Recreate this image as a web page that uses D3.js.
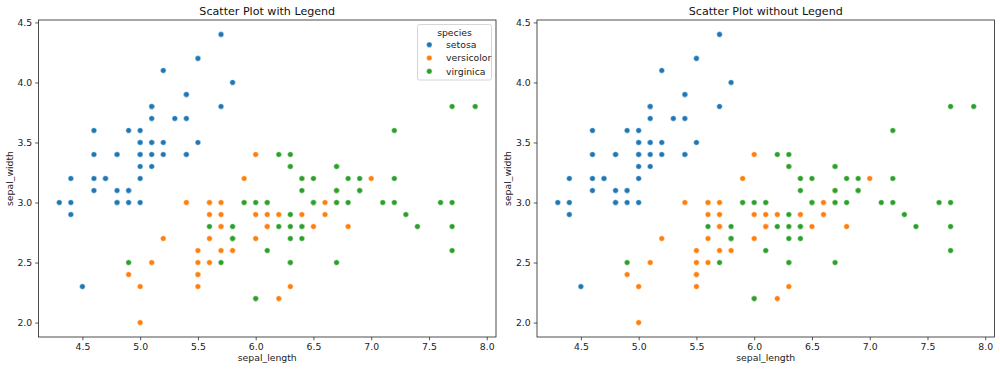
<!DOCTYPE html>
<html>
<head>
<meta charset="utf-8">
<script src="https://cdn.jsdelivr.net/npm/d3@7"></script>
<style>
  body { margin: 0; background: #fff; }
  svg { display: block; font-family: "DejaVu Sans", sans-serif; }
</style>
</head>
<body>
<svg id="chart"></svg>
<script>
const species = ["setosa", "versicolor", "virginica"];
const colors = ["#1f77b4", "#ff7f0e", "#2ca02c"];
const titles = ["Scatter Plot with Legend", "Scatter Plot without Legend"];
const xTicks = [4.5, 5.0, 5.5, 6.0, 6.5, 7.0, 7.5, 8.0];
const yTicks = [2.0, 2.5, 3.0, 3.5, 4.0, 4.5];

// [sepal_length, sepal_width]
const setosa = [
  [5.1,3.5],[4.9,3.0],[4.7,3.2],[4.6,3.1],[5.0,3.6],[5.4,3.9],[4.6,3.4],[5.0,3.4],[4.4,2.9],[4.9,3.1],
  [5.4,3.7],[4.8,3.4],[4.8,3.0],[4.3,3.0],[5.8,4.0],[5.7,4.4],[5.4,3.9],[5.1,3.5],[5.7,3.8],[5.1,3.8],
  [5.4,3.4],[5.1,3.7],[4.6,3.6],[5.1,3.3],[4.8,3.4],[5.0,3.0],[5.0,3.4],[5.2,3.5],[5.2,3.4],[4.7,3.2],
  [4.8,3.1],[5.4,3.4],[5.2,4.1],[5.5,4.2],[4.9,3.1],[5.0,3.2],[5.5,3.5],[4.9,3.6],[4.4,3.0],[5.1,3.4],
  [5.0,3.5],[4.5,2.3],[4.4,3.2],[5.0,3.5],[5.1,3.8],[4.8,3.0],[5.1,3.8],[4.6,3.2],[5.3,3.7],[5.0,3.3]
];
const versicolor = [
  [7.0,3.2],[6.4,3.2],[6.9,3.1],[5.5,2.3],[6.5,2.8],[5.7,2.8],[6.3,3.3],[4.9,2.4],[6.6,2.9],[5.2,2.7],
  [5.0,2.0],[5.9,3.0],[6.0,2.2],[6.1,2.9],[5.6,2.9],[6.7,3.1],[5.6,3.0],[5.8,2.7],[6.2,2.2],[5.6,2.5],
  [5.9,3.2],[6.1,2.8],[6.3,2.5],[6.1,2.8],[6.4,2.9],[6.6,3.0],[6.8,2.8],[6.7,3.0],[6.0,2.9],[5.7,2.6],
  [5.5,2.4],[5.5,2.4],[5.8,2.7],[6.0,2.7],[5.4,3.0],[6.0,3.4],[6.7,3.1],[6.3,2.3],[5.6,3.0],[5.5,2.5],
  [5.5,2.6],[6.1,3.0],[5.8,2.6],[5.0,2.3],[5.6,2.7],[5.7,3.0],[5.7,2.9],[6.2,2.9],[5.1,2.5],[5.7,2.8]
];
const virginica = [
  [6.3,3.3],[5.8,2.7],[7.1,3.0],[6.3,2.9],[6.5,3.0],[7.6,3.0],[4.9,2.5],[7.3,2.9],[6.7,2.5],[7.2,3.6],
  [6.5,3.2],[6.4,2.7],[6.8,3.0],[5.7,2.5],[5.8,2.8],[6.4,3.2],[6.5,3.0],[7.7,3.8],[7.7,2.6],[6.0,2.2],
  [6.9,3.2],[5.6,2.8],[7.7,2.8],[6.3,2.7],[6.7,3.3],[7.2,3.2],[6.2,2.8],[6.1,3.0],[6.4,2.8],[7.2,3.0],
  [7.4,2.8],[7.9,3.8],[6.4,2.8],[6.3,2.8],[6.1,2.6],[7.7,3.0],[6.3,3.4],[6.4,3.1],[6.0,3.0],[6.9,3.1],
  [6.7,3.1],[6.9,3.1],[5.8,2.7],[6.8,3.2],[6.7,3.3],[6.7,3.0],[6.3,2.5],[6.5,3.0],[6.2,3.4],[5.9,3.0]
];

const width = 1000, height = 371;
const svg = d3.select("#chart").attr("width", width).attr("height", height);

const rows = [];
[setosa, versicolor, virginica].forEach((arr, i) => {
  arr.forEach(d => rows.push({x: d[0], y: d[1], s: i}));
});

const color = d3.scaleOrdinal().domain(d3.range(3)).range(colors);

// matplotlib-style 5% margins
function padded(ext) {
  const m = (ext[1] - ext[0]) * 0.05;
  return [ext[0] - m, ext[1] + m];
}
const xDom = padded(d3.extent(rows, d => d.x));
const yDom = padded(d3.extent(rows, d => d.y));

const panels = [
  {left: 38.5, right: 496, legend: true},
  {left: 537, right: 994.5, legend: false}
];
const plotTop = 20, plotBottom = 337;

panels.forEach((p, pi) => {
  const x = d3.scaleLinear().domain(xDom).range([p.left, p.right]);
  const y = d3.scaleLinear().domain(yDom).range([plotBottom, plotTop]);
  const g = svg.append("g");

  g.append("g")
    .selectAll("circle")
    .data(rows)
    .join("circle")
    .attr("cx", d => x(d.x))
    .attr("cy", d => y(d.y))
    .attr("r", 2.8)
    .attr("fill", d => color(d.s))
    .attr("stroke", "#fff")
    .attr("stroke-width", 0.5);

  const xAxis = g.append("g")
    .attr("transform", `translate(0,${plotBottom})`)
    .call(d3.axisBottom(x).tickValues(xTicks).tickFormat(d3.format(".1f")).tickSizeOuter(0).tickSize(3.3).tickPadding(3));
  const yAxis = g.append("g")
    .attr("transform", `translate(${p.left},0)`)
    .call(d3.axisLeft(y).tickValues(yTicks).tickFormat(d3.format(".1f")).tickSizeOuter(0).tickSize(3.3).tickPadding(3));
  [xAxis, yAxis].forEach(a => {
    a.select(".domain").remove();
    a.selectAll("line").attr("stroke", "#222").attr("stroke-width", 0.75);
    a.selectAll("text").attr("fill", "#222").style("font-size", "9.3px").style("font-family", "DejaVu Sans");
  });

  // frame
  g.append("rect")
    .attr("x", p.left).attr("y", plotTop)
    .attr("width", p.right - p.left).attr("height", plotBottom - plotTop)
    .attr("fill", "none").attr("stroke", "#222").attr("stroke-width", 0.8);

  g.append("text")
    .attr("x", (p.left + p.right) / 2).attr("y", 14.5)
    .attr("text-anchor", "middle")
    .style("font-size", "11.1px").attr("fill", "#111")
    .text(titles[pi]);

  g.append("text")
    .attr("x", (p.left + p.right) / 2).attr("y", 361)
    .attr("text-anchor", "middle")
    .style("font-size", "9.3px").attr("fill", "#222")
    .text("sepal_length");

  g.append("text")
    .attr("transform", `translate(${p.left - 26},${(plotTop + plotBottom) / 2}) rotate(-90)`)
    .attr("text-anchor", "middle")
    .style("font-size", "9.3px").attr("fill", "#222")
    .text("sepal_width");

  if (p.legend) {
    const lg = g.append("g").attr("transform", "translate(417.5,24.5)");
    lg.append("rect")
      .attr("width", 74).attr("height", 55.5).attr("rx", 2)
      .attr("fill", "#fff").attr("fill-opacity", 0.8)
      .attr("stroke", "#ccc").attr("stroke-width", 0.8);
    lg.append("text")
      .attr("x", 37).attr("y", 11)
      .attr("text-anchor", "middle")
      .style("font-size", "9.3px").attr("fill", "#222")
      .text("species");
    const item = lg.selectAll(".item")
      .data(species)
      .join("g")
      .attr("class", "item")
      .attr("transform", (d, i) => `translate(0,${20.2 + i * 13.3})`);
    item.append("circle")
      .attr("cx", 11.8).attr("cy", 0).attr("r", 2.8)
      .attr("fill", (d, i) => colors[i])
      .attr("stroke", "#fff").attr("stroke-width", 0.5);
    item.append("text")
      .attr("x", 28.5).attr("y", 3.3)
      .style("font-size", "9.3px").attr("fill", "#222")
      .text(d => d);
  }
});
</script>
</body>
</html>
